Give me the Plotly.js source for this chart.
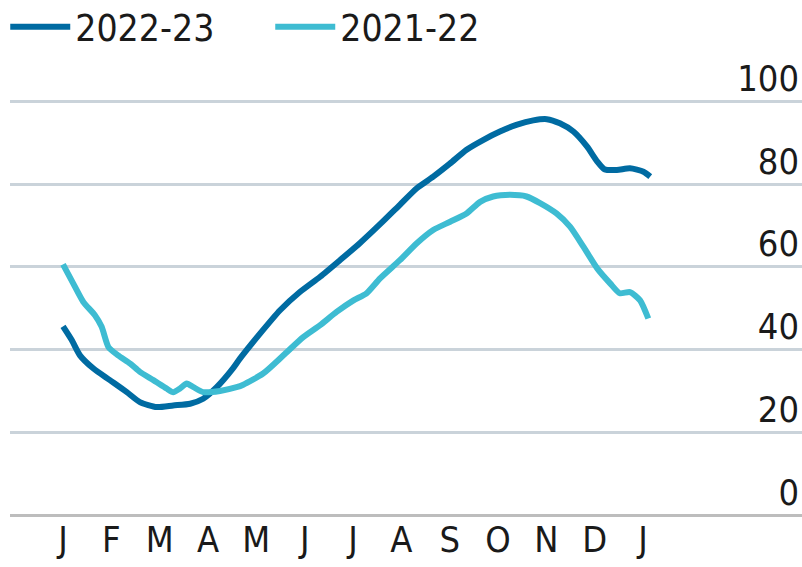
<!DOCTYPE html>
<html>
<head>
<meta charset="utf-8">
<script src="https://cdn.plot.ly/plotly-3.0.1.min.js"></script>
<style>
html,body{margin:0;padding:0;background:#fff;}
#chart{width:802px;height:567px;}
#chart svg text{font-stretch:condensed !important;}
</style>
</head>
<body>
<div id="chart"></div>
<script>
// x = months since 1 January (0 = Jan, 12 = following Jan)
const monthLabels = ["J","F","M","A","M","J","J","A","S","O","N","D","J"];
const monthTicks = [0,1,2,3,4,5,6,7,8,9,10,11,12];

const x2223 = [0,0.18,0.35,0.63,0.97,1.32,1.59,1.94,2.28,2.63,2.90,3.18,3.52,3.66,4.08,4.49,4.90,5.32,5.73,6.14,6.56,6.97,7.32,7.66,8.01,8.35,8.70,9.04,9.38,9.73,10.01,10.28,10.56,10.84,11.05,11.20,11.46,11.73,12.01,12.15];
const y2223 = [45.6,42.3,38.6,35.4,32.6,29.7,27.3,26.1,26.5,26.9,28.1,30.9,35.5,37.8,43.9,49.5,53.9,57.6,61.6,65.7,70.3,75.0,79.0,81.8,85.0,88.3,90.7,92.7,94.3,95.4,95.7,94.7,92.7,89.1,85.5,83.6,83.4,83.8,83.0,81.8];

const x2122 = [0,0.21,0.42,0.66,0.80,0.94,1.14,1.39,1.59,1.87,2.14,2.28,2.42,2.56,2.70,2.90,3.25,3.59,3.73,4.14,4.56,4.97,5.32,5.66,6.01,6.28,6.56,6.97,7.32,7.66,8.01,8.35,8.63,8.90,9.25,9.59,9.87,10.21,10.49,10.77,11.06,11.32,11.52,11.73,11.94,12.11];
const y2122 = [60.6,56.0,51.5,48.3,45.5,40.6,38.6,36.6,34.6,32.6,30.6,29.7,30.6,31.8,30.9,29.7,30.0,30.9,31.5,34.2,38.6,43.0,45.9,49.1,51.9,53.6,57.2,61.6,65.7,68.9,70.9,72.9,75.7,77.0,77.4,77.0,75.4,72.9,69.7,64.8,59.5,56.0,53.6,53.9,51.9,47.5];

const yTicks = [0,20,40,60,80,100];

const FONT = '"DejaVu Sans", sans-serif';

const traces = [
  {x:x2223, y:y2223, name:"2022-23", type:"scatter", mode:"lines",
   line:{color:"#006BA2", width:6, shape:"spline", smoothing:0.6}},
  {x:x2122, y:y2122, name:"2021-22", type:"scatter", mode:"lines",
   line:{color:"#3EBCD2", width:6, shape:"spline", smoothing:0.6}}
];

const layout = {
  width:802, height:567,
  margin:{l:10, r:0, t:60, b:52, pad:0, autoexpand:false},
  paper_bgcolor:"#ffffff", plot_bgcolor:"#ffffff",
  font:{family:FONT, size:36, color:"#1a1a1a"},
  showlegend:true,
  legend:{orientation:"h", x:-0.006, y:1.14, yref:"paper", yanchor:"top", xanchor:"left",
          font:{family:FONT, size:37, color:"#1a1a1a"}, itemwidth:60,
          entrywidth:190, entrywidthmode:"pixels", tracegroupgap:0,
          bgcolor:"rgba(0,0,0,0)"},
  xaxis:{range:[-1.097,15.29], tickvals:monthTicks, ticktext:monthLabels,
         showgrid:false, zeroline:false, showline:false, ticks:"", fixedrange:true,
         tickfont:{family:FONT, size:36, color:"#1a1a1a"}},
  yaxis:{range:[0,110], side:"right", tickvals:yTicks, ticktext:yTicks.map(String),
         ticklabelposition:"inside", ticklabelshift:-23, ticklabeloverflow:"allow", ticks:"",
         showgrid:true, gridcolor:"#cad3da", gridwidth:3,
         zeroline:true, zerolinecolor:"#bdbdbd", zerolinewidth:3,
         showline:false, fixedrange:true,
         tickfont:{family:FONT, size:36, color:"#1a1a1a"}}
};

Plotly.newPlot("chart", traces, layout, {staticPlot:true, displayModeBar:false});
</script>
</body>
</html>
